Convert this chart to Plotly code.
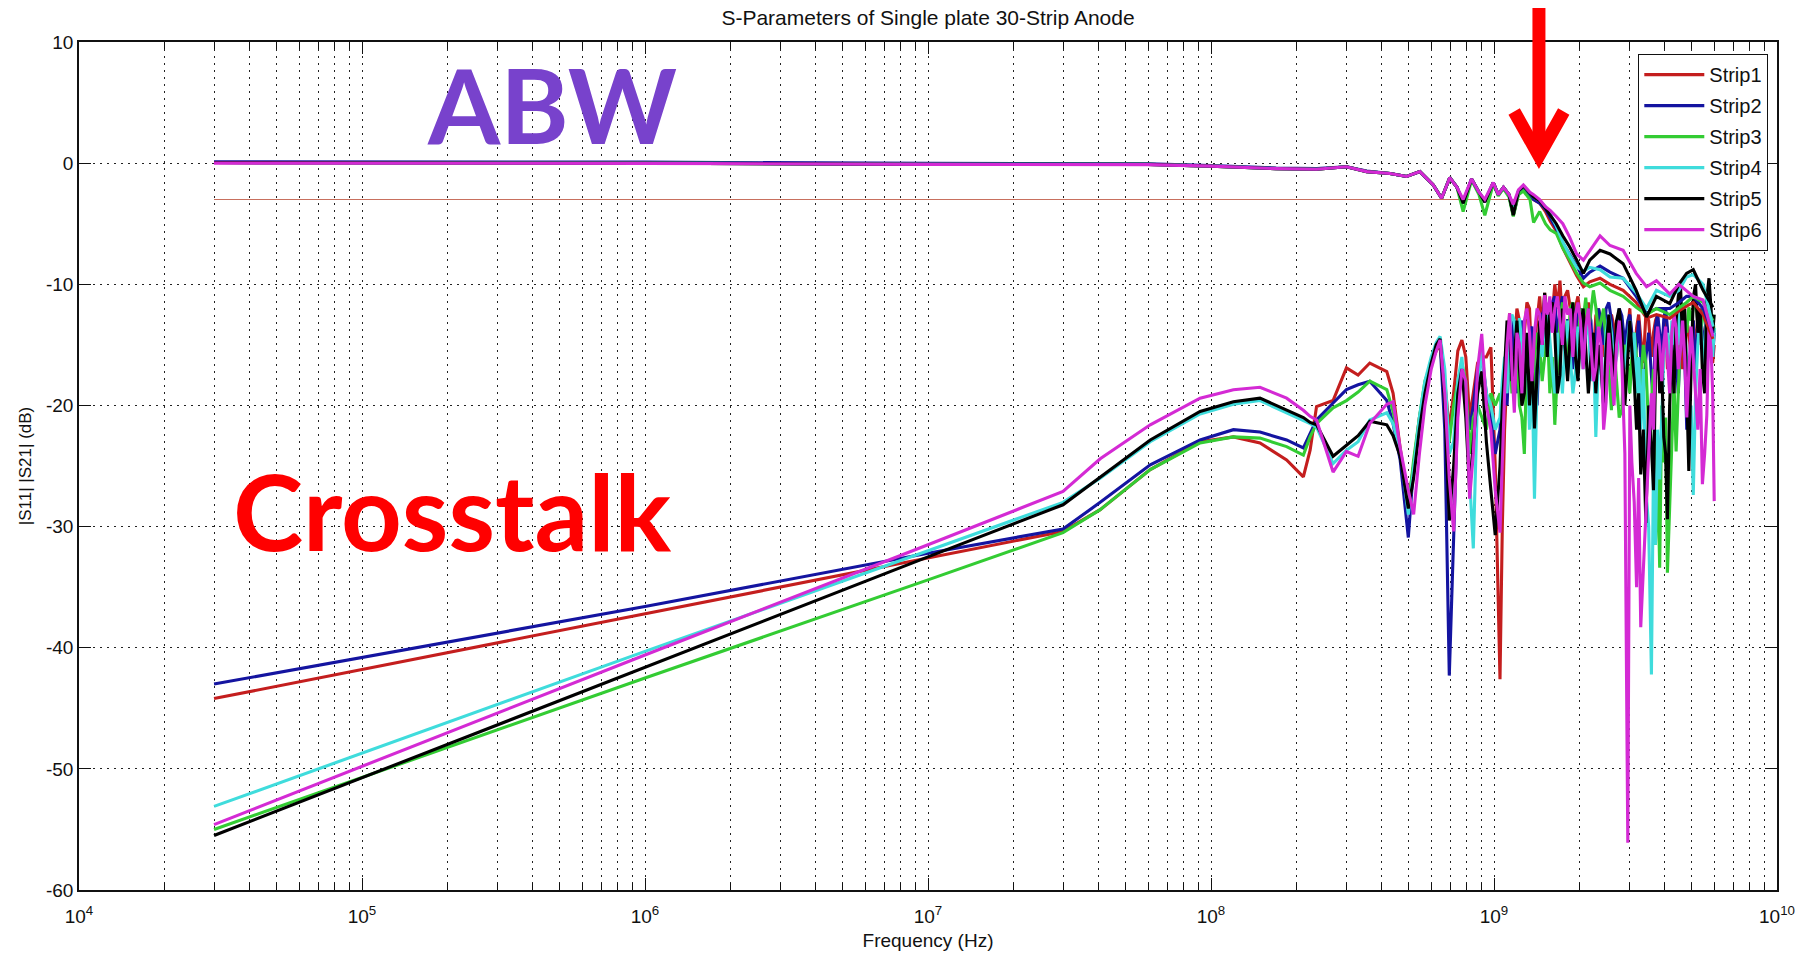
import plotly.graph_objects as go

# ---------------- data ----------------
strip_names = ["Strip1", "Strip2", "Strip3", "Strip4", "Strip5", "Strip6"]
strip_colors = ["#C41E1E", "#1414A0", "#33CC33", "#3FDCDC", "#000000", "#D42AD4"]

# crosstalk frequency grid (MHz)
freq_low_mhz = [0.03, 1, 10]
freq_mid_mhz = [30, 40.6, 61, 91.5, 120, 149, 185, 212, 224, 236, 270, 301, 331, 364, 418, 440, 466, 498]
freq_high_mhz = [520, 545, 570, 600, 625, 645, 670, 695, 720, 745,
                 770, 795, 820, 845, 875, 905, 940, 975, 1010, 1050,
                 1090, 1135, 1180, 1230, 1280, 1335, 1390, 1450, 1510, 1575,
                 1640, 1710, 1780, 1860, 1940, 2020, 2110, 2200, 2290, 2390,
                 2490, 2600, 2710, 2830, 2970, 3070, 3190, 3300, 3440, 3600,
                 3720, 3850, 3980, 4100, 4250, 4400, 4560, 4720, 4880, 5060,
                 5250, 5450, 5650, 5850, 6000]
# additional readings in the dense, spiky band above 1 GHz (MHz)
freq_extra_mhz = [1070, 1112, 1157, 1205, 1255, 1307, 1362, 1420, 1480, 1542,
                  1607, 1675, 1745, 1820, 1900, 1980, 2065, 2155, 2245, 2340,
                  2440, 2545, 2655, 2770, 2900, 3020, 3130, 3245, 3370, 3520,
                  3660, 3785, 3915, 4040, 4175, 4325, 4480, 4640, 4800, 4970,
                  5155, 5350, 5550, 5750, 5925]

xt_strip1_low = [-44.2, -37.2, -32.6]
xt_strip1_mid = [-30.4, -28.6, -25.3, -23.0, -22.6, -23.1, -24.5, -25.9, -23.7, -20.1, -19.6, -16.9, -17.5, -16.5, -17.2, -19.0, -23.5, -28.0]
xt_strip1_high = [-25, -21, -18.5, -16.5, -15.5, -15, -18, -22, -19, -15.5,
                  -14.6, -16, -21, -19, -16.5, -16, -16, -15.2, -25, -42.6,
                  -22, -12.4, -15, -13, -14, -12, -14.8, -11, -10.7, -11.5,
                  -10, -9.7, -11, -12, -11.9, -13, -12.6, -14, -12.6, -13.3,
                  -14, -12.5, -16, -13, -13.6, -15.5, -13.6, -14.4, -12.5, -16,
                  -13, -15.5, -14, -17, -14, -15, -13.5, -16, -14, -13,
                  -15, -14, -16, -14.5, -15]
xt_strip1_extra = [-30, -17, -18, -12, -17, -11.5, -17, -13, -14, -13,
                   -12.5, -12, -13, -10.5, -14, -11, -15, -11.5, -16, -12,
                   -16, -13, -13.5, -12.5, -15.5, -12, -16, -12.5, -16.5, -13,
                   -14, -12.5, -17, -13, -15, -17, -13, -17, -13, -16,
                   -14.5, -12.5, -15, -13, -16.5]

xt_strip2_low = [-43.0, -36.6, -32.2]
xt_strip2_mid = [-30.2, -28.0, -24.9, -22.85, -22.0, -22.2, -22.85, -23.5, -22.3, -21.2, -19.8, -18.7, -18.3, -18.0, -19.6, -21.5, -24.5, -30.9]
xt_strip2_high = [-25, -21.5, -18.5, -16.5, -15, -14.8, -22, -42.3, -30, -20,
                  -17, -19, -22, -20, -17, -16, -19, -21, -24, -22,
                  -17, -15, -17, -14, -16, -14, -17, -14, -12, -13,
                  -11, -12, -16.5, -13, -14, -12, -14, -13, -14.4, -13,
                  -12, -13, -14, -12.6, -13, -14, -15, -16, -16.1, -17.5,
                  -13.5, -14, -12.9, -13.6, -15, -16, -14, -16, -19, -13,
                  -14, -14, -12, -13, -14]
xt_strip2_extra = [-19, -20, -13, -19, -13, -19, -13.5, -20, -12.5, -16,
                   -11.5, -15, -11, -13, -17, -12.5, -16, -12, -17, -12,
                   -15, -11.5, -15.5, -12, -15, -12.5, -17, -13, -19, -14,
                   -20, -12.5, -16, -12, -17, -13, -19, -13, -22, -15,
                   -17, -12.5, -15, -11.5, -16]

xt_strip3_low = [-55.0, -42.5, -34.4]
xt_strip3_mid = [-30.5, -28.6, -25.3, -23.1, -22.6, -22.7, -23.4, -24.1, -22.6, -21.5, -20.2, -19.6, -18.9, -18.0, -18.7, -20.5, -23.7, -28.5]
xt_strip3_high = [-24.5, -21, -18, -16.5, -15.2, -14.8, -19, -23, -20, -18,
                  -16.5, -18, -24, -21, -20, -21, -22, -19, -20, -19,
                  -17, -15, -18, -20, -24, -18, -16, -15, -16, -19,
                  -21.6, -13, -14, -12, -14, -12, -11.1, -12, -11.9, -13,
                  -15, -20.4, -18, -20.4, -16.5, -16, -16.1, -18, -16.5, -19.7,
                  -31.5, -33.4, -24.7, -33.8, -22, -23.8, -14, -12.9, -11.9, -12,
                  -13, -13, -12, -13, -14]
xt_strip3_extra = [-21, -14, -19, -15, -21, -16, -21, -14, -18, -13,
                   -16, -17, -11.5, -16, -11.5, -15, -13, -14, -10.5, -14,
                   -12, -17, -15, -21, -15, -19, -14, -20, -15, -22,
                   -17, -25, -20, -21, -28, -18, -19, -12, -14, -13,
                   -11.5, -14, -11.5, -13.5, -12.5]

xt_strip4_low = [-53.1, -40.3, -32.0]
xt_strip4_mid = [-28.0, -26.0, -23.0, -20.7, -19.9, -19.6, -20.6, -21.2, -21.5, -21.8, -24.8, -23.7, -23.0, -21.2, -20.6, -21.5, -23.7, -29.0]
xt_strip4_high = [-25, -21, -18, -16, -14.8, -14.3, -17, -24, -23, -18,
                  -16, -20, -26, -31.8, -19, -15.5, -19, -20, -22, -21,
                  -16, -14, -13, -12.8, -18, -22, -27.7, -14, -13, -15,
                  -19, -16, -15, -16, -17.2, -15, -14, -18, -22.6, -17,
                  -14, -14, -16, -15, -14.5, -16, -19, -22, -26.9, -42.2,
                  -31.5, -26.1, -16, -14, -13, -12.5, -11, -13, -22.6, -27.4,
                  -15, -14.7, -10.8, -13.3, -13.6]
xt_strip4_extra = [-18, -19, -12.5, -16, -15, -15, -17, -18, -16, -12,
                   -17, -14, -19, -13, -19, -13.5, -17, -13, -15, -16,
                   -20, -12.5, -17, -13, -17, -13, -14, -16, -17, -30,
                   -25, -22, -20, -15, -17, -16, -15, -14, -17, -20,
                   -19, -12.5, -17, -12, -16]

xt_strip5_low = [-55.5, -41.6, -32.5]
xt_strip5_mid = [-28.2, -25.9, -22.85, -20.5, -19.7, -19.4, -20.4, -21.0, -21.4, -21.6, -24.2, -23.3, -22.5, -21.3, -21.6, -22.5, -24.2, -28.5]
xt_strip5_high = [-26, -22, -19, -16.5, -15, -14.5, -20, -29.5, -25, -19,
                  -17, -21, -27, -23, -19, -17.2, -23, -27, -30.7, -25,
                  -17, -14, -16, -17, -19, -20, -21.9, -13, -10.7, -12,
                  -14, -17.5, -15, -14, -16, -14, -15.4, -16, -19, -17,
                  -15.4, -15.4, -13, -14, -16.1, -15.4, -22, -25.7, -29.7, -23.3,
                  -17.6, -19, -22.6, -29.4, -15, -13, -10, -12, -25.4, -11.1,
                  -14, -17.2, -11.1, -11.9, -12.5]
xt_strip5_extra = [-20, -13, -18, -13, -20, -14, -16, -17, -15, -16,
                   -11.5, -19, -12, -18, -11.5, -18, -12, -19, -14, -15,
                   -20, -12.5, -18, -12, -20, -13, -18, -19, -22, -20,
                   -27, -14, -17, -24, -20, -19, -11, -15, -18, -17,
                   -10, -12, -19, -9.5, -14]

xt_strip6_low = [-54.6, -40.6, -31.5]
xt_strip6_mid = [-27.1, -24.4, -21.6, -19.4, -18.7, -18.5, -19.4, -20.4, -20.9, -21.2, -25.5, -23.8, -24.2, -21.5, -19.9, -19.7, -23.5, -27.0]
xt_strip6_high = [-29, -24, -20, -17, -15.5, -14.6, -19, -26, -30.4, -21,
                  -17, -18, -27.7, -24, -17, -14.1, -20, -22, -27, -30.5,
                  -19, -12.4, -20.6, -15, -13, -14, -14, -12.5, -10.9, -11,
                  -12, -13, -11, -12, -12.5, -13, -13.6, -15, -16.9, -15,
                  -19.7, -17, -15, -16.5, -56.1, -24.7, -35, -38.3, -29, -19,
                  -15.4, -15.1, -15, -16.5, -14, -13.6, -15.4, -16, -17.2, -16.1,
                  -22, -26.5, -20.8, -15.4, -27.9]
xt_strip6_extra = [-24, -15, -17, -14, -19, -12, -18, -12, -15, -12.5,
                   -14, -11, -15, -12.5, -16, -11.5, -17, -12, -18, -13.5,
                   -22, -14, -20, -13, -24, -20, -28, -26, -33, -24,
                   -22, -13.5, -18, -13.5, -19, -12.5, -17, -13, -21, -13.5,
                   -19, -17, -24, -13.5, -19]

# transmission (|S21|) frequency grid (MHz)
freq_s21_mhz = [0.03, 1, 10, 60, 100, 137, 170, 236, 301, 355,
                429, 491, 547, 610, 653, 698, 740, 778, 833, 885,
                928, 994, 1035, 1080, 1130, 1170, 1220, 1270, 1340, 1380,
                1450, 1520, 1580, 1660, 1750, 1850, 1960, 2070, 2180, 2370,
                2570, 2860, 3180, 3460, 3750, 4180, 4500, 4790, 5060, 5480, 5940]

s21_strip1 = [0.05, 0.0, -0.1, -0.1, -0.25, -0.4, -0.45, -0.5, -0.3, -0.7,
              -0.85, -1.1, -0.7, -1.8, -2.9, -1.2, -2.0, -3.3, -1.3, -2.4,
              -3.2, -1.6, -2.6, -2.0, -2.6, -4.3, -2.5, -2.0, -2.6, -3.0,
              -3.3, -4.0, -4.8, -5.6, -7.0, -8.2, -9.3, -10.2, -9.8, -9.5,
              -10.0, -10.5, -11.5, -12.8, -12.5, -12.8, -12.2, -11.8, -11.5, -12.5, -14.5]
s21_strip2 = [0.12, 0.08, -0.02, -0.05, -0.2, -0.35, -0.4, -0.45, -0.3, -0.65,
              -0.85, -1.1, -0.7, -1.8, -2.9, -1.2, -2.0, -3.3, -1.3, -2.4,
              -3.2, -1.6, -2.6, -2.0, -2.6, -4.3, -2.5, -2.0, -2.6, -3.0,
              -3.3, -3.8, -4.5, -5.4, -6.6, -7.5, -8.5, -9.5, -9.0, -8.5,
              -9.0, -9.5, -11.0, -12.4, -12.0, -12.0, -11.5, -11.0, -11.0, -12.0, -14.0]
s21_strip3 = [0.05, 0.0, -0.1, -0.1, -0.25, -0.4, -0.45, -0.5, -0.3, -0.7,
              -0.85, -1.1, -0.7, -1.8, -2.9, -1.2, -2.0, -4.0, -1.4, -2.6,
              -4.3, -1.7, -2.7, -2.1, -2.8, -4.4, -2.6, -2.3, -3.0, -4.9,
              -4.0, -5.0, -5.5, -5.8, -7.0, -8.0, -9.1, -9.9, -10.2, -9.9,
              -10.5, -11.0, -11.9, -12.5, -12.0, -12.5, -12.0, -11.5, -11.0, -11.5, -13.0]
s21_strip4 = [0.05, 0.0, -0.1, -0.1, -0.25, -0.4, -0.45, -0.5, -0.3, -0.7,
              -0.85, -1.1, -0.7, -1.8, -2.9, -1.2, -2.0, -3.2, -1.3, -2.4,
              -3.1, -1.6, -2.6, -2.0, -2.6, -4.0, -2.3, -1.9, -2.5, -2.8,
              -3.1, -3.6, -4.2, -5.2, -6.5, -7.6, -8.6, -8.9, -8.6, -8.8,
              -9.4, -9.5, -10.7, -12.0, -10.5, -11.0, -10.5, -9.4, -9.2, -10.0, -13.5]
s21_strip5 = [0.05, 0.0, -0.1, -0.1, -0.25, -0.4, -0.45, -0.5, -0.3, -0.7,
              -0.85, -1.1, -0.7, -1.8, -2.9, -1.2, -2.0, -3.3, -1.3, -2.4,
              -3.2, -1.6, -2.6, -2.0, -2.6, -4.3, -2.3, -1.9, -2.5, -2.8,
              -3.1, -3.7, -4.3, -5.0, -6.0, -6.9, -8.0, -9.1, -8.0, -7.2,
              -7.5, -8.3, -10.5, -12.7, -11.0, -11.6, -10.0, -9.1, -8.8, -10.5, -11.9]
s21_strip6 = [0.0, -0.02, -0.1, -0.12, -0.25, -0.4, -0.45, -0.5, -0.3, -0.7,
              -0.85, -1.1, -0.7, -1.8, -2.9, -1.2, -2.0, -3.0, -1.3, -2.4,
              -3.0, -1.6, -2.6, -2.0, -2.6, -3.4, -2.2, -1.8, -2.4, -2.6,
              -3.0, -3.6, -3.9, -4.4, -5.0, -6.1, -7.5, -8.0, -7.2, -6.0,
              -6.8, -7.2, -9.1, -10.2, -9.7, -10.8, -10.0, -10.5, -11.0, -11.3, -14.3]

ref_3db_mhz = [0.03, 6000]
ref_3db_val = [-3, -3]

x_tick_vals = [1e4, 1e5, 1e6, 1e7, 1e8, 1e9, 1e10]
x_tick_text = ["10<sup>4</sup>", "10<sup>5</sup>", "10<sup>6</sup>", "10<sup>7</sup>",
               "10<sup>8</sup>", "10<sup>9</sup>", "10<sup>10</sup>"]
x_minor_vals = [m * d for d in [1e4, 1e5, 1e6, 1e7, 1e8, 1e9] for m in range(2, 10)]
y_tick_vals = [-60, -50, -40, -30, -20, -10, 0, 10]
y_tick_text = ["-60", "-50", "-40", "-30", "-20", "-10", "0", "10"]

# ---------------- figure ----------------
xt_low = [xt_strip1_low, xt_strip2_low, xt_strip3_low, xt_strip4_low, xt_strip5_low, xt_strip6_low]
xt_mid = [xt_strip1_mid, xt_strip2_mid, xt_strip3_mid, xt_strip4_mid, xt_strip5_mid, xt_strip6_mid]
xt_high = [xt_strip1_high, xt_strip2_high, xt_strip3_high, xt_strip4_high, xt_strip5_high, xt_strip6_high]
xt_extra = [xt_strip1_extra, xt_strip2_extra, xt_strip3_extra, xt_strip4_extra, xt_strip5_extra, xt_strip6_extra]
s21_all = [s21_strip1, s21_strip2, s21_strip3, s21_strip4, s21_strip5, s21_strip6]

freq_main_mhz = freq_low_mhz + freq_mid_mhz + freq_high_mhz
freq_s21_hz = [f * 1e6 for f in freq_s21_mhz]

FONT = "Liberation Sans, Arial, sans-serif"
fig = go.Figure()
LW = 3.1
for i in range(6):
    vals = xt_low[i] + xt_mid[i] + xt_high[i]
    assert len(vals) == len(freq_main_mhz) and len(xt_extra[i]) == len(freq_extra_mhz)
    pairs = sorted(zip(freq_main_mhz + freq_extra_mhz, vals + xt_extra[i]))
    fig.add_trace(go.Scatter(
        x=[p[0] * 1e6 for p in pairs], y=[p[1] for p in pairs], mode="lines",
        line=dict(color=strip_colors[i], width=LW), name=strip_names[i],
        legendgroup=strip_names[i], showlegend=True))

fig.add_trace(go.Scatter(
    x=[f * 1e6 for f in ref_3db_mhz], y=ref_3db_val, mode="lines",
    line=dict(color="#C8705E", width=1.2), showlegend=False, hoverinfo="skip"))

for i in range(6):
    assert len(s21_all[i]) == len(freq_s21_hz)
    fig.add_trace(go.Scatter(
        x=freq_s21_hz, y=s21_all[i], mode="lines",
        line=dict(color=strip_colors[i], width=LW), name=strip_names[i],
        legendgroup=strip_names[i], showlegend=False))

tick_font = dict(family=FONT, size=19, color="#111")
grid_dash = "2px,5px"

fig.update_layout(
    width=1812, height=957,
    margin=dict(l=79, r=35, t=42, b=67, autoexpand=False),
    paper_bgcolor="white", plot_bgcolor="white",
    title=dict(text="S-Parameters of Single plate 30-Strip Anode",
               xref="paper", x=0.5, xanchor="center", y=0.982, yanchor="middle",
               font=dict(family=FONT, size=21, color="#111")),
    showlegend=True,
    legend=dict(x=0.9947, y=0.986, xanchor="right", yanchor="top",
                bgcolor="white", bordercolor="#111", borderwidth=1.3,
                font=dict(family=FONT, size=20, color="#111"),
                itemwidth=60, tracegroupgap=2),
)

fig.update_xaxes(
    type="log", range=[4, 10], automargin=False,
    tickmode="array", tickvals=x_tick_vals, ticktext=x_tick_text,
    ticks="inside", ticklen=12, tickwidth=1.3, tickcolor="#111",
    showline=True, linecolor="#111", linewidth=1.5, mirror="ticks",
    showgrid=True, gridcolor="#222", gridwidth=1, griddash=grid_dash,
    tickfont=tick_font, zeroline=False, ticklabelstandoff=8,
    minor=dict(tickmode="array", tickvals=x_minor_vals, ticks="inside", ticklen=7,
               tickwidth=1.1, tickcolor="#111", showgrid=True, gridcolor="#222",
               gridwidth=1, griddash=grid_dash),
    title=dict(text="Frequency (Hz)", standoff=8,
               font=dict(family=FONT, size=19, color="#111")),
)
fig.update_yaxes(
    range=[-60, 10], automargin=False,
    tickmode="array", tickvals=y_tick_vals, ticktext=y_tick_text,
    ticks="inside", ticklen=12, tickwidth=1.3, tickcolor="#111",
    showline=True, linecolor="#111", linewidth=1.5, mirror="ticks",
    showgrid=True, gridcolor="#222", gridwidth=1, griddash=grid_dash,
    tickfont=tick_font, zeroline=False,
    title=dict(text="|S11| |S21| (dB)", standoff=10,
               font=dict(family=FONT, size=17, color="#111")),
)

# overlay annotations (paper coordinates)
fig.add_annotation(text="<b>ABW</b>", xref="paper", yref="paper", x=0.2786, y=0.928,
                   xanchor="center", yanchor="middle", showarrow=False,
                   font=dict(family="Lato, sans-serif", size=104, color="#7842CC"))
fig.add_annotation(text="<b>Crosstalk</b>", xref="paper", yref="paper", x=0.2197, y=0.448,
                   xanchor="center", yanchor="middle", showarrow=False,
                   font=dict(family="Lato, sans-serif", size=106, color="#FF0000"))

# red arrow pointing at the -3 dB crossing
fig.add_shape(type="line", xref="paper", yref="paper", x0=0.8598, x1=0.8598, y0=1.040, y1=0.872,
              line=dict(color="#FF0000", width=13))
fig.add_shape(type="path", xref="paper", yref="paper",
              path="M 0.8452,0.918 L 0.8598,0.866 L 0.8744,0.918",
              line=dict(color="#FF0000", width=13))

fig.write_html("out.html")
